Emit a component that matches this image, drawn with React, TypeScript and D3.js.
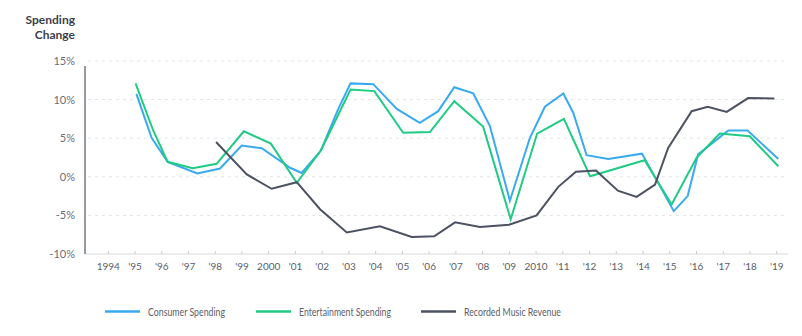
import React from "react";
import * as d3 from "d3";

// ---- Data (x = decimal year, y = % change) ----
const consumerYears = [1995.05, 1995.62, 1996.22, 1997.33, 1998.18, 1998.99, 1999.74, 2000.8, 2001.23, 2001.95, 2002.59, 2003.06, 2003.91, 2004.79, 2005.65, 2006.34, 2006.94, 2007.65, 2008.27, 2009.02, 2009.77, 2010.33, 2011.02, 2011.39, 2011.89, 2012.7, 2013.96, 2015.15, 2015.67, 2016.06, 2017.19, 2017.91, 2019.06];
const consumerValues = [10.75, 5.05, 1.94, 0.43, 1.07, 4.05, 3.7, 1.17, 0.5, 3.4, 8.7, 12.1, 12.0, 8.8, 7.0, 8.5, 11.6, 10.8, 6.6, -3.1, 5.05, 9.07, 10.8, 8.3, 2.8, 2.3, 3.0, -4.45, -2.5, 2.9, 6.0, 6.0, 2.3];

const entertainmentYears = [1995.02, 1995.68, 1996.22, 1997.16, 1998.05, 1999.07, 2000.08, 2001.05, 2001.95, 2003.06, 2003.95, 2005.03, 2006.03, 2006.94, 2008.02, 2009.05, 2010.04, 2011.04, 2012.02, 2014.06, 2015.07, 2016.0, 2016.87, 2017.99, 2019.06];
const entertainmentValues = [12.1, 6.0, 1.94, 1.1, 1.68, 5.9, 4.3, -0.78, 3.4, 11.3, 11.1, 5.7, 5.8, 9.8, 6.5, -5.5, 5.6, 7.5, 0.08, 2.15, -3.6, 2.46, 5.6, 5.26, 1.37];

const musicYears = [1998.03, 1999.18, 2000.11, 2001.05, 2001.92, 2002.92, 2004.16, 2005.35, 2006.19, 2006.97, 2007.9, 2008.99, 2010.02, 2010.83, 2011.49, 2012.24, 2013.06, 2013.76, 2014.45, 2014.94, 2015.82, 2016.42, 2017.13, 2017.93, 2018.91];
const musicValues = [4.5, 0.3, -1.55, -0.7, -4.2, -7.2, -6.4, -7.8, -7.7, -5.9, -6.5, -6.2, -5.0, -1.3, 0.65, 0.8, -1.8, -2.6, -1.0, 3.75, 8.5, 9.07, 8.4, 10.2, 10.15];

const tickYears = d3.range(1994, 2020);
const tickLabels = ["1994", "'95", "'96", "'97", "'98", "'99", "2000", "'01", "'02", "'03", "'04", "'05", "'06", "'07", "'08", "'09", "2010", "'11", "'12", "'13", "'14", "'15", "'16", "'17", "'18", "'19"];
const yTicks = [15, 10, 5, 0, -5, -10];

const seriesNames = ["Consumer Spending", "Entertainment Spending", "Recorded Music Revenue"];
const seriesColors = ["#3aaaf0", "#1fcb83", "#4c5262"];

const FONT = "Lato, 'Open Sans', sans-serif";

export default function App() {
  const W = 802, H = 336;
  const x = d3.scaleLinear().domain([1994, 2019]).range([108.3, 776.7]);
  const y = d3.scaleLinear().domain([-10, 15]).range([254, 61]);
  const axisLeft = 85, axisRight = 788;

  const line = d3
    .line<[number, number]>()
    .x((d) => x(d[0]))
    .y((d) => y(d[1]));

  const series = [
    d3.zip(consumerYears, consumerValues) as [number, number][],
    d3.zip(entertainmentYears, entertainmentValues) as [number, number][],
    d3.zip(musicYears, musicValues) as [number, number][],
  ];

  const legendX = [105, 256, 421];
  const legendTextLen = [77, 92, 97];

  return (
    <svg width={W} height={H} style={{ position: "absolute", left: 0, top: 0, background: "#fff" }}>
      {/* title */}
      <text x={75} y={24} textAnchor="end" fontFamily={FONT} fontWeight={700} fontSize={12} fill="#3b3f4a">
        Spending
      </text>
      <text x={75} y={39} textAnchor="end" fontFamily={FONT} fontWeight={700} fontSize={12} fill="#3b3f4a">
        Change
      </text>

      {/* gridlines */}
      {yTicks.filter((t) => t !== -10).map((t) => (
        <line key={t} x1={axisLeft + 3} x2={axisRight} y1={y(t)} y2={y(t)} stroke="#e3e4e7" strokeWidth={1} strokeDasharray="3,4" />
      ))}
      {/* y labels */}
      {yTicks.map((t) => (
        <text key={t} x={75} y={y(t) + 4} textAnchor="end" fontFamily={FONT} fontSize={11} fill="#6a6e78">
          {t + "%"}
        </text>
      ))}

      {/* x axis */}
      <line x1={axisLeft} x2={axisRight} y1={y(-10)} y2={y(-10)} stroke="#d7d9dd" strokeWidth={1} />
      {tickYears.map((yr, i) => (
        <g key={yr}>
          <line x1={x(yr)} x2={x(yr)} y1={y(-10) - 3} y2={y(-10)} stroke="#c9ccd1" strokeWidth={1} />
          <text x={x(yr)} y={270} textAnchor="middle" fontFamily={FONT} fontSize={10} fill="#5a5e68">
            {tickLabels[i]}
          </text>
        </g>
      ))}
      {/* y axis */}
      <line x1={axisLeft} x2={axisLeft} y1={66} y2={y(-10)} stroke="#737885" strokeWidth={1.5} />

      {/* series */}
      {series.map((s, i) => (
        <path key={i} d={line(s) || ""} fill="none" stroke={seriesColors[i]} strokeWidth={2} strokeLinejoin="miter" />
      ))}

      {/* legend */}
      {seriesNames.map((n, i) => (
        <g key={n}>
          <line x1={legendX[i]} x2={legendX[i] + 35} y1={311.5} y2={311.5} stroke={seriesColors[i]} strokeWidth={2.5} />
          <text
            x={legendX[i] + 43}
            y={315.5}
            fontFamily={FONT}
            fontSize={11}
            fill="#5a5e68"
            textLength={legendTextLen[i]}
            lengthAdjust="spacingAndGlyphs"
          >
            {n}
          </text>
        </g>
      ))}
    </svg>
  );
}
